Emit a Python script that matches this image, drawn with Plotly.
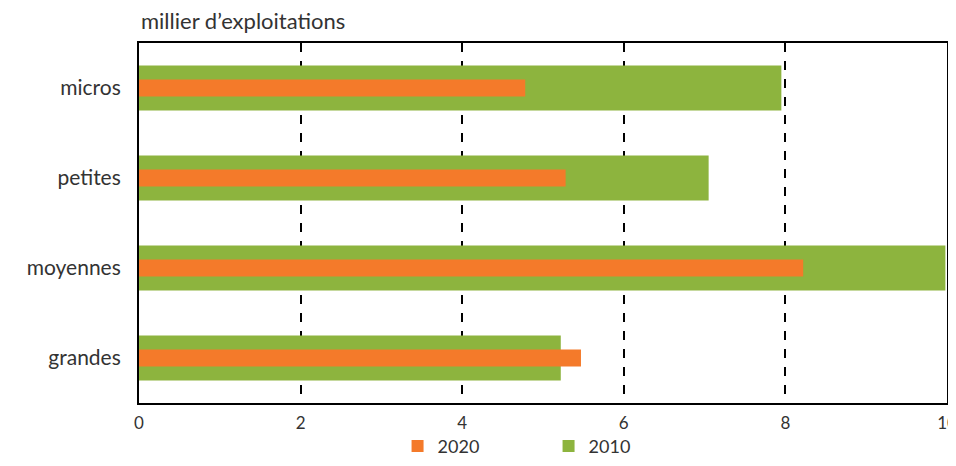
import plotly.graph_objects as go

categories = ["micros", "petites", "moyennes", "grandes"]
values_2010 = [7.95, 7.05, 9.98, 5.22]
values_2020 = [4.78, 5.28, 8.22, 5.47]
tick_vals = [0, 2, 4, 6, 8, 10]

GREEN = "#8DB43E"
ORANGE = "#F47A2A"
FONT = "Lato"

fig = go.Figure()
fig.add_trace(go.Bar(
    y=categories, x=values_2010, orientation="h", name="2010",
    marker=dict(color=GREEN, line=dict(width=0)), width=0.5,
))
fig.add_trace(go.Bar(
    y=categories, x=values_2020, orientation="h", name="2020",
    marker=dict(color=ORANGE, line=dict(width=0)), width=0.19,
))

fig.update_layout(
    width=948, height=450,
    margin=dict(l=131, r=9, t=35, b=55, autoexpand=False),
    barmode="overlay",
    plot_bgcolor="white", paper_bgcolor="white",
    font=dict(family=FONT, size=20, color="#333"),
    showlegend=True,
    legend=dict(orientation="h", x=0.32, y=-0.172, xanchor="left", yanchor="bottom",
                traceorder="reversed", font=dict(size=18), itemwidth=30,
                entrywidth=106, bgcolor="rgba(0,0,0,0)"),
    xaxis=dict(range=[0, 10], tickvals=tick_vals, showgrid=True,
               gridcolor="black", griddash="dash", gridwidth=2,
               showline=True, linecolor="black", linewidth=2, mirror=True,
               zeroline=False, ticks="", tickfont=dict(size=17),
               ticklabelstandoff=4, ticklabeloverflow="allow", automargin=False),
    yaxis=dict(categoryorder="array", categoryarray=categories,
               autorange="reversed", showline=True, linecolor="black",
               linewidth=2, mirror=True, ticks="", ticklabelstandoff=12,
               tickfont=dict(size=21), automargin=False),
    annotations=[dict(text="millier d\u2019exploitations", xref="paper", yref="paper",
                      x=0, y=1, xanchor="left", yanchor="middle", yshift=23,
                      showarrow=False, font=dict(size=22))],
)

fig.write_html("out.html")
